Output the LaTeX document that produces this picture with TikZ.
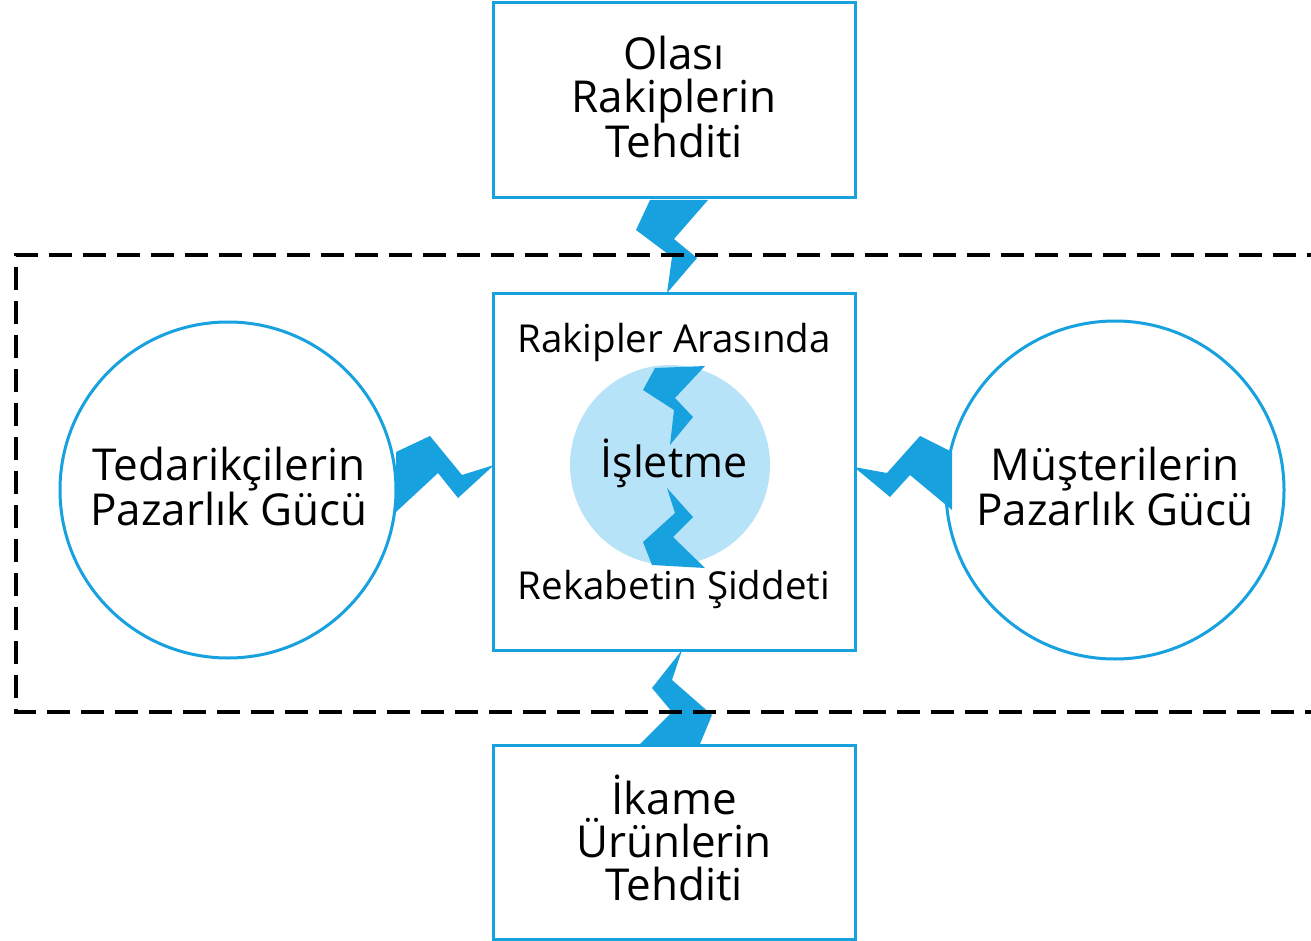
\documentclass[tikz,border=0pt]{standalone}
\usepackage{fontspec}
\setmainfont{Open Sans}
\usetikzlibrary{positioning}
\definecolor{forceblue}{HTML}{17A1DE}
\definecolor{firmblue}{HTML}{B6E3F7}
\tikzset{
  labeltext/.style={font=\fontsize{44}{43}\selectfont, align=center, inner sep=0pt},
  innertext/.style={labeltext, font=\fontsize{38.5}{43}\selectfont},
  forcebox/.style={draw=forceblue, line width=3pt, minimum width=362pt, labeltext},
  forcecircle/.style={circle, draw=forceblue, line width=3pt, labeltext},
  bolt/.style={fill=forceblue},
  market/.style={draw=black, line width=4pt, dash pattern=on 23pt off 11pt}
}

\begin{document}
\begin{tikzpicture}[x=1pt, y=-1pt]
  \useasboundingbox (0,0) rectangle (1311,941);
  \fill[white] (0,0) rectangle (1311,941);
  \clip (0,0) rectangle (1311,941);

  % yildirimlar
  \fill[bolt] (650,200) -- (708,200) -- (674,239) -- (697,258) -- (667,293)
    -- (672,257) -- (636,230) -- cycle;
  \fill[bolt] (682,650) -- (672,680) -- (712,715) -- (700,744) -- (640,744)
    -- (672,712) -- (652,688) -- cycle;
  \fill[bolt] (396,452) -- (430,436) -- (462,475) -- (494,465) -- (458,498)
    -- (438,473) -- (396,512) -- cycle;
  \fill[bolt] (854,467) -- (887,473) -- (920,436) -- (952,452) -- (952,510)
    -- (910,475) -- (890,497) -- cycle;

  % kutular
  \draw[forcebox] (493,3) rectangle (855,198);
  \node[labeltext] (threat) at (674,97) {Olası\\Rakiplerin\\Tehditi};
  \node[forcebox, minimum height=357pt] (rivalry) at (674,471.5) {};
  \draw[forcebox] (493,745) rectangle (855,939);
  \node[labeltext] (subst) at (674,838) {İkame\\Ürünlerin\\Tehditi};

  % daireler
  \node[forcecircle, minimum size=336pt] (supplier) at (228,490) {};
  \node[labeltext] (suppliertext) at (229,486) {Tedarikçilerin\\Pazarlık Gücü};
  \node[forcecircle, minimum size=338pt] (buyer) at (1115,490) {};
  \node[labeltext] (buyertext) at (1115,486) {Müşterilerin\\Pazarlık Gücü};

  % isletme
  \node[circle, fill=firmblue, minimum size=200pt] (firm) at (670,465) {};
  \fill[bolt] (655,368) -- (705,366) -- (675,398) -- (693,417) -- (670,445)
    -- (674,410) -- (643,390) -- cycle;
  \fill[bolt] (667,488) -- (693,517) -- (673,537) -- (705,568) -- (652,565)
    -- (643,542) -- (675,513) -- cycle;
  \node[labeltext, font=\fontsize{43}{43}\selectfont] (firmname) at (674,463) {İşletme};
  \node[innertext] (rivaltop) at (674,342) {Rakipler Arasında};
  \node[innertext] (rivalbot) at (674,589) {Rekabetin Şiddeti};

  % sektor siniri
  \draw[market] (1330,255) -- (16,255) -- (16,712) -- (1330,712);
\end{tikzpicture}
\end{document}
